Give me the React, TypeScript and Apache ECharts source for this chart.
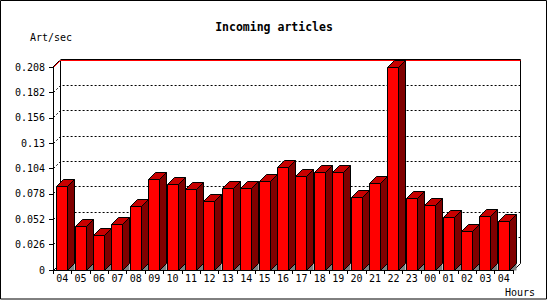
import React, { useEffect, useRef } from 'react';
import * as echarts from 'echarts';

const hours = ['04', '05', '06', '07', '08', '09', '10', '11', '12', '13', '14', '15', '16', '17', '18', '19', '20', '21', '22', '23', '00', '01', '02', '03', '04'];
const rates = [0.0857, 0.0449, 0.0357, 0.047, 0.0655, 0.0932, 0.0871, 0.082, 0.0706, 0.083, 0.084, 0.0902, 0.1046, 0.0953, 0.1004, 0.1004, 0.0747, 0.0891, 0.2074, 0.0737, 0.0665, 0.0542, 0.0398, 0.0552, 0.0493];
const gridValues = [0.026, 0.052, 0.078, 0.104, 0.13, 0.156, 0.182];
const Y_MAX = 0.208;
const Y_STEP = 0.026;
const TITLE = 'Incoming articles';
const Y_NAME = 'Art/sec';
const X_NAME = 'Hours';

const D = 7;
const MONO = '"DejaVu Sans Mono", monospace';
const snap = (v: number) => Math.round(v - 0.5) + 0.5;

export default function App() {
  const ref = useRef<HTMLDivElement>(null);
  useEffect(() => {
    const chart = echarts.init(ref.current!, null, { renderer: 'svg' });

    const frameSeries = {
      type: 'custom',
      clip: false,
      silent: true,
      data: [[0, 0]],
      renderItem: (params: any) => {
        const cs = params.coordSys;
        const x0 = snap(cs.x), x1 = snap(cs.x + cs.width);
        const y0 = snap(cs.y), y1 = snap(cs.y + cs.height);
        const blk = { stroke: '#000', lineWidth: 1, fill: null };
        const red = { stroke: '#ff0000', lineWidth: 1, fill: null };
        const ln = (a: number, b: number, c: number, d: number, st: any) => ({
          type: 'line', shape: { x1: a, y1: b, x2: c, y2: d }, style: st,
        });
        return {
          type: 'group',
          children: [
            ln(x0 + D, y0 - D, x0 + D, y1 - D, blk),
            ln(x1 + D, y0 - D - 1, x1 + D, y1 - D, blk),
            ln(x0, y1, x0 + D, y1 - D, blk),
            ln(x1, y1, x1 + D, y1 - D, blk),
            ln(x0 + D, y0 - D - 1, x1 + D, y0 - D - 1, blk),
            ln(x0 + D, y0 - D, x1 + D, y0 - D, red),
            ln(x0 - 1, y0, x0 + D - 1, y0 - D, blk),
            ln(x0, y0, x0 + D, y0 - D, red),
          ],
        };
      },
    };

    const gridSeries = {
      type: 'custom',
      clip: false,
      silent: true,
      data: gridValues.map((v) => [0, v]),
      renderItem: (params: any, api: any) => {
        const cs = params.coordSys;
        const x0 = snap(cs.x), x1 = snap(cs.x + cs.width);
        const y = snap(api.coord([0, api.value(1)])[1]);
        return {
          type: 'polyline',
          shape: { points: [[x0, y], [x0 + D, y - D], [x1 + D, y - D]] },
          style: { stroke: '#000', lineWidth: 1, fill: null, lineDash: [2, 2] },
        };
      },
    };

    const barSeries = {
      type: 'custom',
      clip: false,
      data: rates.map((v, i) => [i, v]),
      renderItem: (params: any, api: any) => {
        const idx = api.value(0);
        const v = api.value(1);
        const c0 = api.coord([idx, 0]);
        const c1 = api.coord([idx, v]);
        const band = api.size([1, 0])[0];
        const L = snap(c0[0] - band / 2 + band * 0.2);
        const R = L + Math.round(band * 0.6);
        const B = snap(c0[1]);
        const T = snap(c1[1]);
        const edge = { stroke: '#000', lineWidth: 1 };
        return {
          type: 'group',
          children: [
            { type: 'polygon', shape: { points: [[R, B], [R + D, B - D], [R + D, B]] }, style: { fill: '#808080' } },
            { type: 'polygon', shape: { points: [[R, T], [R + D, T - D], [R + D, B - D], [R, B]] }, style: { fill: '#800000', ...edge } },
            { type: 'polygon', shape: { points: [[L, T], [L + D, T - D], [R + D, T - D], [R, T]] }, style: { fill: '#c80000', ...edge } },
            { type: 'polygon', shape: { points: [[L, T], [R, T], [R, B], [L, B]] }, style: { fill: '#ff0000', ...edge } },
          ],
        };
      },
    };

    chart.setOption({
      animation: false,
      backgroundColor: '#ffffff',
      grid: { left: 53, right: 37, top: 67, bottom: 30, containLabel: false },
      xAxis: {
        type: 'category',
        data: hours,
        axisLine: { show: true, lineStyle: { color: '#000', width: 1 } },
        axisTick: { show: true, length: 4, lineStyle: { color: '#000' } },
        axisLabel: { color: '#000', fontFamily: MONO, fontSize: 10, margin: 3, interval: 0 },
        splitLine: { show: false },
        z: 10,
      },
      yAxis: {
        type: 'value',
        min: 0,
        max: Y_MAX,
        interval: Y_STEP,
        axisLine: { show: true, lineStyle: { color: '#000', width: 1 } },
        axisTick: { show: true, length: 4, lineStyle: { color: '#000' } },
        axisLabel: {
          color: '#000', fontFamily: MONO, fontSize: 10, margin: 8,
          formatter: (v: number) => String(parseFloat(v.toFixed(3))),
        },
        splitLine: { show: false },
        z: 10,
      },
      graphic: [
        { type: 'rect', shape: { x: 0.5, y: 0.5, width: 546, height: 298.5 }, style: { fill: null, stroke: '#000', lineWidth: 1 }, silent: true },
        { type: 'text', x: 274, y: 27, style: { text: TITLE, font: 'bold 11.5px ' + MONO, fill: '#000', align: 'center', verticalAlign: 'middle' } },
        { type: 'text', x: 30, y: 37, style: { text: Y_NAME, font: '10px ' + MONO, fill: '#000', align: 'left', verticalAlign: 'middle' } },
        { type: 'text', x: 505, y: 292, style: { text: X_NAME, font: '10px ' + MONO, fill: '#000', align: 'left', verticalAlign: 'middle' } },
      ],
      series: [frameSeries, gridSeries, barSeries],
    });
    return () => chart.dispose();
  }, []);
  return (
    <div
      ref={ref}
      style={{ position: 'absolute', left: 0, top: 0, width: 550, height: 300, background: '#fff' }}
    />
  );
}
